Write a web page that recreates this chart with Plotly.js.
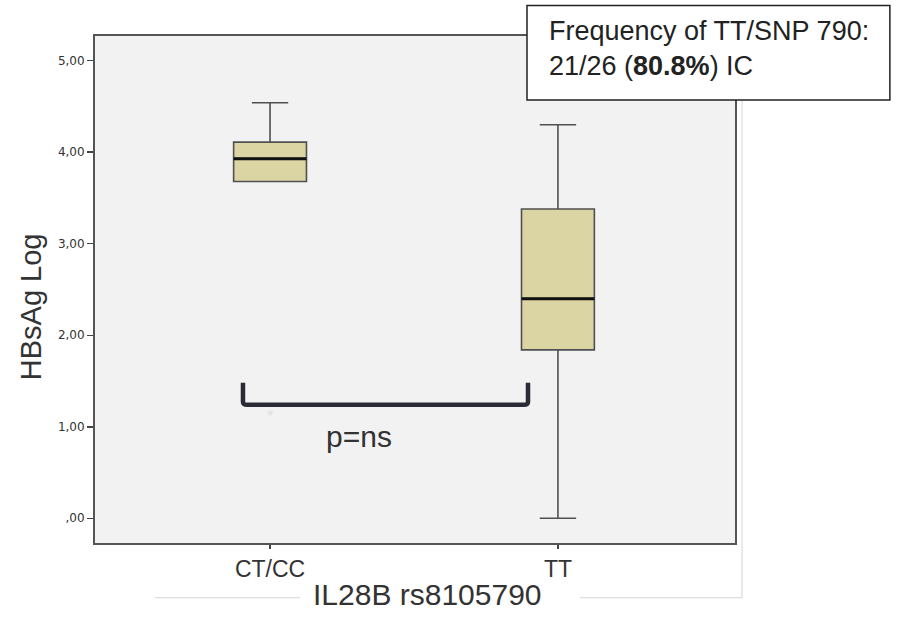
<!DOCTYPE html>
<html>
<head>
<meta charset="utf-8">
<script src="https://cdn.plot.ly/plotly-3.0.1.min.js"></script>
<style>
  html, body { margin: 0; padding: 0; background: #ffffff; }
  #chart { width: 913px; height: 620px; }
</style>
</head>
<body>
<div id="chart"></div>
<script>
// Genotype groups and the HBsAg (log) box summaries per group
const groups = ["CT/CC", "TT"];
const groupPos = [0, 1];
const lowerWhisker = [3.68, 0.00];
const q1 = [3.68, 1.84];
const median = [3.93, 2.40];
const q3 = [4.11, 3.38];
const upperWhisker = [4.54, 4.30];
const outlierGroup = [0];
const outlierValue = [1.10];

const yTickVals = [0, 1, 2, 3, 4, 5];
const yTickText = [",00", "1,00", "2,00", "3,00", "4,00", "5,00"];

const boxWidth = 0.253;
const sansFont = "Liberation Sans, Arial, sans-serif";

const boxTrace = {
  type: "box",
  x: groupPos,
  q1: q1,
  median: median,
  q3: q3,
  lowerfence: lowerWhisker,
  upperfence: upperWhisker,
  width: boxWidth,
  whiskerwidth: 0.5,
  fillcolor: "#dbd5a3",
  line: { color: "#505050", width: 1.6 },
  boxpoints: false,
  hoverinfo: "skip",
  showlegend: false
};

// faint extreme-value marker
const outlierTrace = {
  type: "scatter",
  mode: "text",
  x: outlierGroup.map(i => groupPos[i]),
  y: outlierValue,
  text: outlierValue.map(() => "*"),
  textfont: { family: sansFont, size: 16, color: "#dedede" },
  hoverinfo: "skip",
  showlegend: false
};

// thick median bars drawn across each box
const medianShapes = groupPos.map((x, i) => ({
  type: "line", xref: "x", yref: "y",
  x0: x - boxWidth / 2, x1: x + boxWidth / 2,
  y0: median[i], y1: median[i],
  line: { color: "#111111", width: 3 }
}));

// comparison bracket between the two groups
const brX0 = -0.094, brX1 = 0.896, brTop = 1.48, brBot = 1.24;
const bracket = {
  type: "path", xref: "x", yref: "y",
  path: `M ${brX0} ${brTop} L ${brX0} ${brBot + 0.03} Q ${brX0} ${brBot} ${brX0 + 0.015} ${brBot} ` +
        `L ${brX1 - 0.015} ${brBot} Q ${brX1} ${brBot} ${brX1} ${brBot + 0.03} L ${brX1} ${brTop}`,
  line: { color: "#2b2b35", width: 4.5 }
};

// light outer frame around the chart area
const frameColor = "#d4d4d4";
const frame = [
  { type: "line", xref: "paper", yref: "paper", x0: 0.094, x1: 0.32, y0: -0.108, y1: -0.108, line: { color: frameColor, width: 1 } },
  { type: "line", xref: "paper", yref: "paper", x0: 0.758, x1: 1.011, y0: -0.108, y1: -0.108, line: { color: frameColor, width: 1 } },
  { type: "line", xref: "paper", yref: "paper", x0: 1.011, x1: 1.011, y0: -0.108, y1: 0.98, line: { color: frameColor, width: 1 } }
];

// frequency note box
const noteBox = {
  type: "rect", xref: "paper", yref: "paper",
  x0: 0.675, x1: 1.242, y0: 0.874, y1: 1.06,
  fillcolor: "#ffffff", line: { color: "#222222", width: 1.5 }
};

const layout = {
  width: 913,
  height: 620,
  margin: { l: 95, r: 178, t: 36, b: 77 },
  paper_bgcolor: "#ffffff",
  plot_bgcolor: "#f2f2f2",
  font: { family: sansFont, color: "#333333" },
  xaxis: {
    range: [-0.608, 1.615],
    tickvals: groupPos,
    ticktext: groups,
    ticks: "outside",
    ticklen: 4,
    tickwidth: 1.5,
    tickcolor: "#444444",
    tickfont: { family: sansFont, size: 23, color: "#333333" },
    showgrid: false,
    zeroline: false,
    showline: true,
    linecolor: "#555555",
    linewidth: 2,
    mirror: true
  },
  yaxis: {
    range: [-0.27, 5.27],
    tickvals: yTickVals,
    ticktext: yTickText,
    ticks: "outside",
    ticklen: 6,
    tickwidth: 1.5,
    tickcolor: "#444444",
    tickfont: { family: "DejaVu Sans, sans-serif", size: 12, color: "#333333" },
    showgrid: false,
    zeroline: false,
    showline: true,
    linecolor: "#555555",
    linewidth: 2,
    mirror: true
  },
  shapes: frame.concat([noteBox, bracket]).concat(medianShapes),
  annotations: [
    {
      // x-axis title
      xref: "paper", yref: "paper", x: 0.52, y: -0.102,
      xanchor: "center", yanchor: "middle", showarrow: false,
      text: "IL28B rs8105790",
      font: { family: sansFont, size: 30, color: "#333333" }
    },
    {
      // y-axis title
      xref: "paper", yref: "paper", x: -0.1, y: 0.465,
      xanchor: "center", yanchor: "middle", showarrow: false, textangle: -90,
      text: "HBsAg Log",
      font: { family: sansFont, size: 29, color: "#333333" }
    },
    {
      xref: "paper", yref: "paper", x: 0.706, y: 1.044,
      xanchor: "left", yanchor: "top", align: "left", showarrow: false,
      text: "Frequency of TT/SNP 790:<br>21/26 (<b>80.8%</b>) IC",
      font: { family: sansFont, size: 27, color: "#222222" }
    },
    {
      xref: "x", yref: "y", x: 0.31, y: 0.89,
      xanchor: "center", yanchor: "middle", showarrow: false,
      text: "p=ns",
      font: { family: sansFont, size: 30, color: "#333333" }
    }
  ]
};

Plotly.newPlot("chart", [boxTrace, outlierTrace], layout, { displayModeBar: false, staticPlot: true });
</script>
</body>
</html>
